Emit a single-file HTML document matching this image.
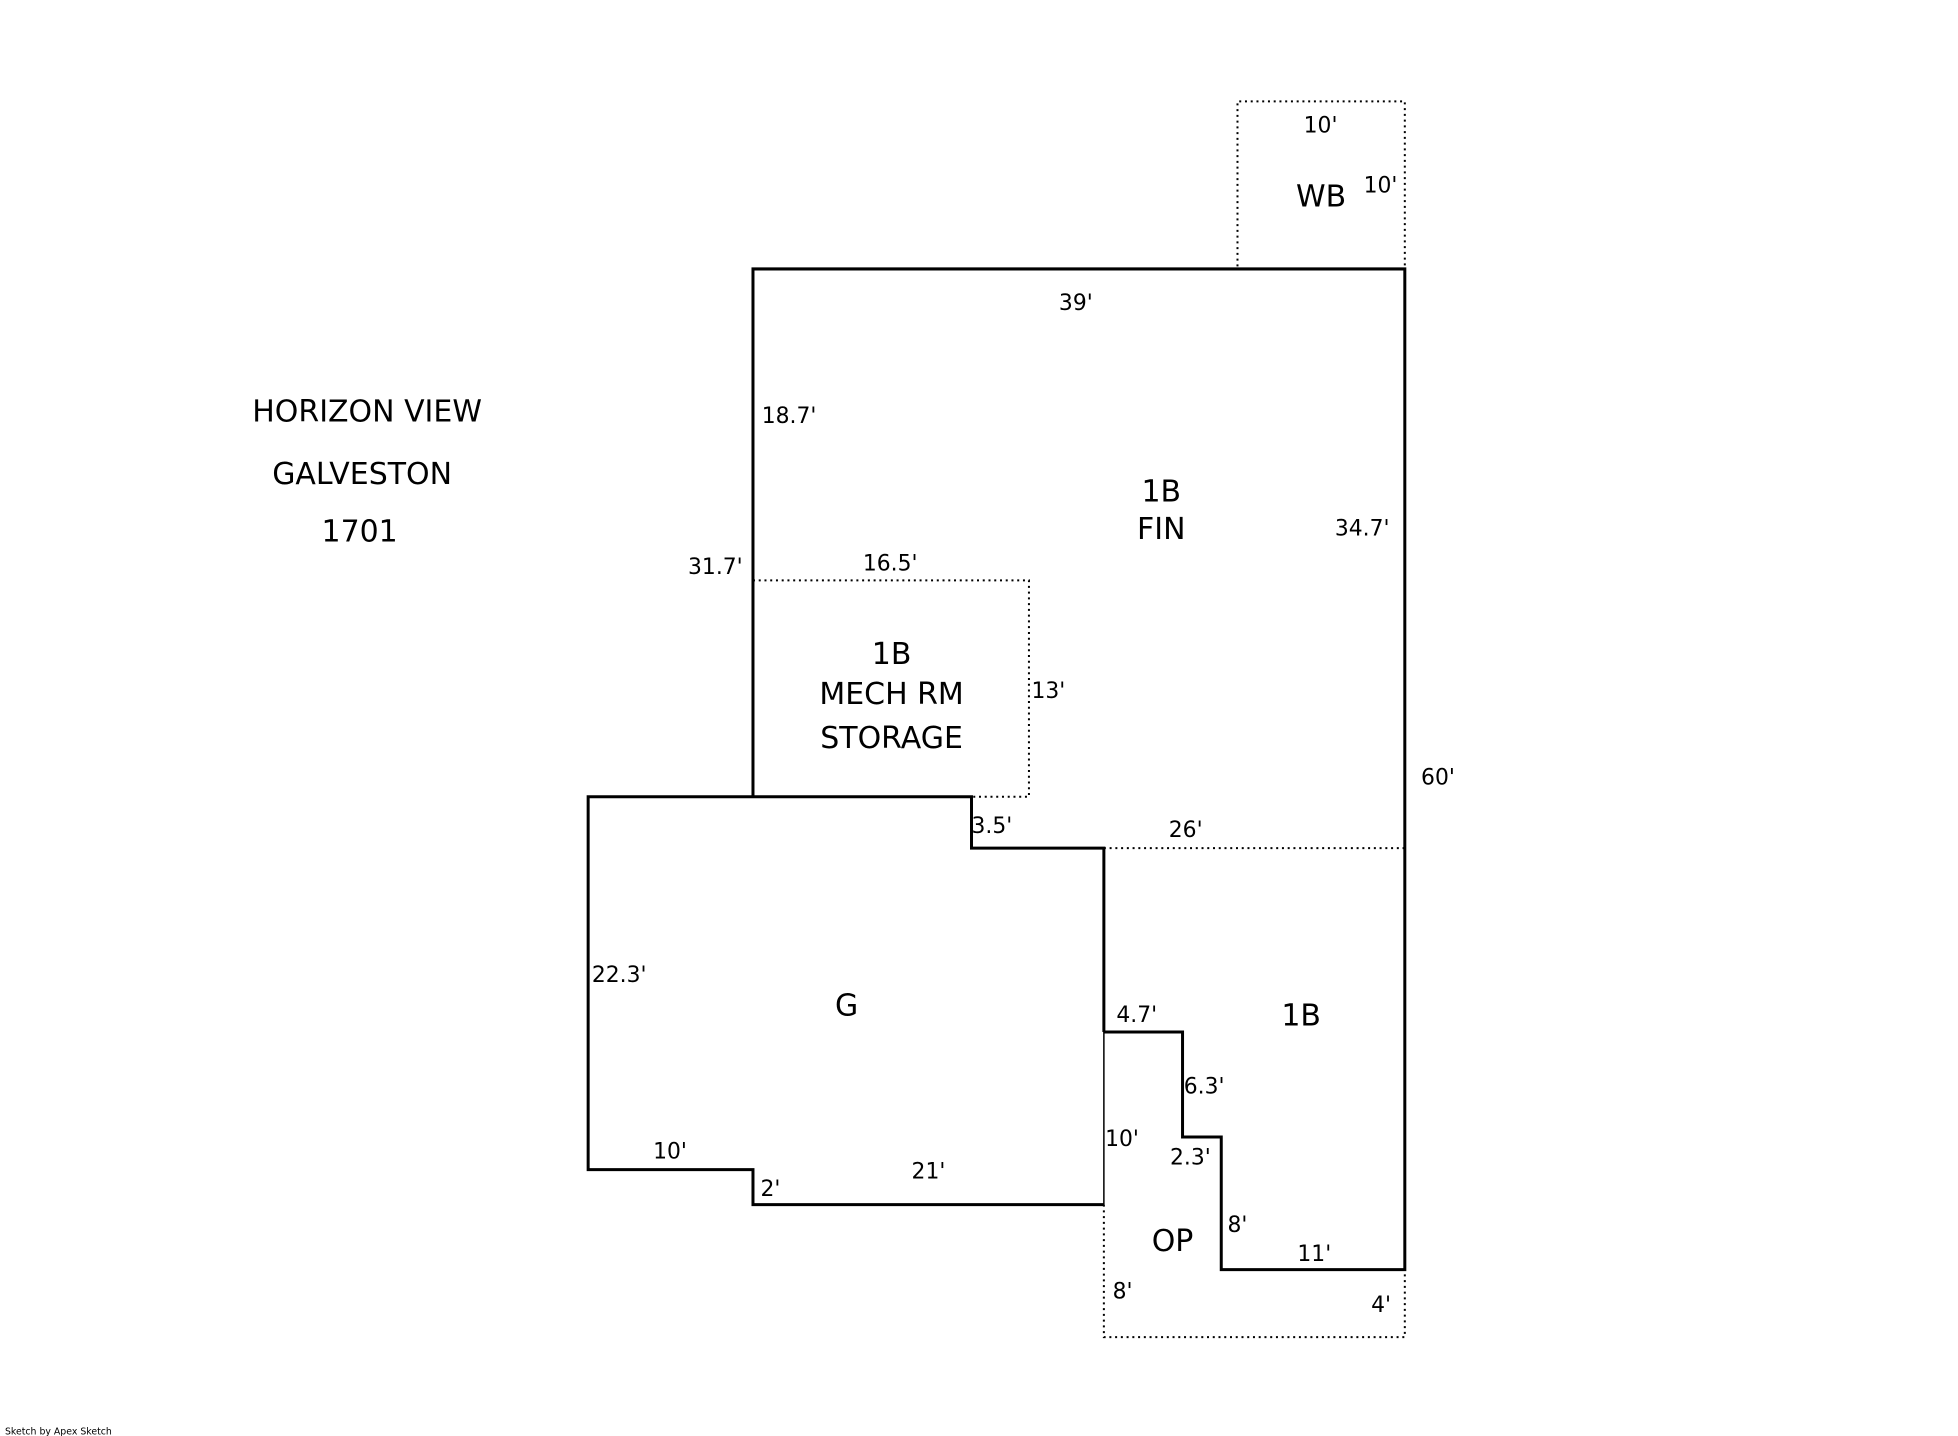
<!DOCTYPE html>
<html><head><meta charset="utf-8"><style>
html,body{margin:0;padding:0;background:#fff;width:1958px;height:1436px;overflow:hidden}
svg{display:block}
text{font-family:"DejaVu Sans","Liberation Sans",sans-serif;fill:#000}
</style></head><body>
<svg width="1958" height="1436" viewBox="0 0 1568 1148" preserveAspectRatio="none" xmlns="http://www.w3.org/2000/svg">
<g fill="none" stroke="#000" stroke-width="1.6" stroke-dasharray="1.6 3">
<polyline points="991,213 991,81 1125,81 1125,213"/>
<polyline points="603,464 824,464 824,637 778,637"/>
<line x1="884" y1="678" x2="1125" y2="678"/>
<polyline points="884,963 884,1069 1125,1069 1125,1015"/>
</g>
<g fill="none" stroke="#000" stroke-width="2.4" stroke-linejoin="miter">
<polyline points="603,637 603,215 1125,215 1125,1015 978,1015 978,909 947,909 947,825 884,825"/>
<polyline points="884,825 884,678 778,678 778,637 471,637 471,935 603,935 603,963 884,963"/>
</g>
<line x1="884" y1="825" x2="884" y2="963" stroke="#000" stroke-width="1.2"/>
<g font-size="24" text-anchor="middle">
<text x="294" y="337">HORIZON VIEW</text>
<text x="290" y="387">GALVESTON</text>
<text x="288" y="433">1701</text>
<text x="1058" y="165">WB</text>
<text x="930" y="401">1B</text>
<text x="930" y="431">FIN</text>
<text x="714" y="531">1B</text>
<text x="714" y="563">MECH RM</text>
<text x="714" y="598">STORAGE</text>
<text x="678" y="812">G</text>
<text x="1042" y="820">1B</text>
<text x="939" y="1000">OP</text>
</g>
<g font-size="17.5">
<text x="1044" y="106">10'</text>
<text x="1092" y="154">10'</text>
<text x="848" y="248">39'</text>
<text x="610" y="338">18.7'</text>
<text x="1069" y="428">34.7'</text>
<text x="551" y="459">31.7'</text>
<text x="691" y="456">16.5'</text>
<text x="826" y="558">13'</text>
<text x="1138" y="627">60'</text>
<text x="778" y="666">3.5'</text>
<text x="936" y="669">26'</text>
<text x="474" y="785">22.3'</text>
<text x="894" y="817">4.7'</text>
<text x="948" y="874">6.3'</text>
<text x="885" y="916">10'</text>
<text x="937" y="931">2.3'</text>
<text x="523" y="926">10'</text>
<text x="730" y="942">21'</text>
<text x="609" y="956">2'</text>
<text x="983" y="985">8'</text>
<text x="1039" y="1008">11'</text>
<text x="891" y="1038">8'</text>
<text x="1098" y="1049">4'</text>
</g>
<text x="4" y="1147" font-size="7.5">Sketch by Apex Sketch</text>
</svg>
</body></html>
